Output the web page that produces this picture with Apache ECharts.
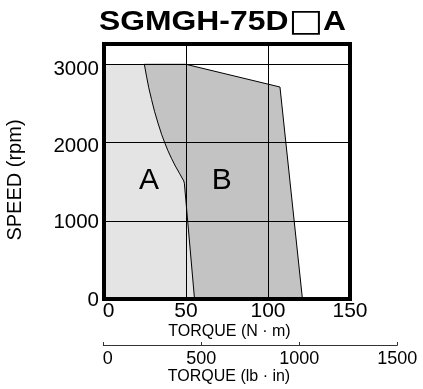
<!DOCTYPE html>
<html><head><meta charset="utf-8">
<script src="https://cdn.jsdelivr.net/npm/echarts@6/dist/echarts.min.js"></script>
<style>html,body{margin:0;padding:0;background:#fff}#c{width:423px;height:389px}</style>
</head><body><div id="c"></div><script>
// ---- data ----
const titleText = 'SGMGH-75D';
const titleBox = '□';
const titleTail = 'A';
const torqueNmRange = [0, 150];
const torqueLbInRange = [0, 1500];
const speedRange = [0, 3260];
const speedTickStep = 1000;
// boundary between region A and region B (torque N·m, speed rpm)
const boundaryTorque = [24.6, 25.9, 27.3, 29.0, 30.8, 32.9, 35.2, 37.0, 38.9, 41.1, 43.5, 46.2, 48.6, 49.0, 55.2];
const boundarySpeed  = [3000, 2850, 2700, 2550, 2400, 2250, 2100, 2000, 1900, 1800, 1700, 1600, 1510, 1480, 0];
// outer limit of region B (from its top-left corner to the torque axis)
const limitTorque = [50, 107.3, 121];
const limitSpeed  = [3000, 2710, 0];
const regionNames = ['A', 'B'];

// ---- build polygons ----
const boundary = boundaryTorque.map((t, i) => [t, boundarySpeed[i]]);
const limit = limitTorque.map((t, i) => [t, limitSpeed[i]]);
const polyA = [[0, 0], [0, boundarySpeed[0]]].concat(boundary);
const polyB = boundary.concat([[limitTorque[2], 0]]).concat(limit.slice(0, 2).reverse());
const polys = [polyA, polyB];
const fills = ['#e4e4e4', '#c3c3c3'];
const strokes = [null, '#000'];

const FONT = '"Liberation Sans", Arial, sans-serif';
const chart = echarts.init(document.getElementById('c'), null, {renderer: 'canvas'});
const border = {show: true, onZero: false, lineStyle: {color: '#000', width: 4, cap: 'square'}};
const yLab = (pt) => ({fontSize: 20.5, fontFamily: FONT, color: '#000', padding: [pt, 0, 0, 0]});
chart.setOption({
  animation: false,
  backgroundColor: '#fff',
  grid: [
    {left: 104, top: 44, width: 246, height: 255},
    {left: 103.3, top: 344, width: 294, height: 1}
  ],
  xAxis: [
    {gridIndex: 0, type: 'value', position: 'bottom', min: torqueNmRange[0], max: torqueNmRange[1], interval: 50, z: 10,
     axisLine: border,
     axisTick: {show: false},
     splitLine: {show: true, lineStyle: {color: '#000', width: 1}},
     axisLabel: {color: '#000', fontSize: 21, fontFamily: FONT, margin: 2,
       formatter: v => v === 0 ? '{z|0}' : String(v),
       rich: {z: {fontSize: 21, fontFamily: FONT, color: '#000', padding: [0, 0, 0, 9]}}}},
    {gridIndex: 0, type: 'value', position: 'top', min: torqueNmRange[0], max: torqueNmRange[1], z: 10,
     axisLine: border,
     axisTick: {show: false}, axisLabel: {show: false}, splitLine: {show: false}},
    {gridIndex: 1, type: 'value', position: 'bottom', min: torqueLbInRange[0], max: torqueLbInRange[1], interval: 500, z: 10,
     axisLine: {show: true, onZero: false, lineStyle: {color: '#333', width: 1}},
     axisTick: {show: true, inside: true, length: 3, lineStyle: {color: '#333', width: 1}},
     splitLine: {show: false},
     axisLabel: {color: '#000', fontSize: 18, fontFamily: FONT, margin: 5,
       formatter: v => v === 0 ? '{z|0}' : String(v),
       rich: {z: {fontSize: 18, fontFamily: FONT, color: '#000', padding: [0, 0, 0, 9]}}}}
  ],
  yAxis: [
    {gridIndex: 0, type: 'value', position: 'left', min: speedRange[0], max: speedRange[1], interval: speedTickStep, z: 10,
     axisLine: border,
     axisTick: {show: false},
     splitLine: {show: true, lineStyle: {color: '#000', width: 1}},
     axisLabel: {color: '#000', fontSize: 20.5, fontFamily: FONT, margin: 5, showMaxLabel: false,
       formatter: v => {
         if (v % speedTickStep !== 0) return '';
         if (v === 3000) return '{t3|' + v + '}';
         if (v === 2000) return '{t2|' + v + '}';
         return '{t1|' + v + '}';
       },
       rich: {t3: yLab(10), t2: yLab(8), t1: yLab(3)}}},
    {gridIndex: 0, type: 'value', position: 'right', min: speedRange[0], max: speedRange[1], z: 10,
     axisLine: border,
     axisTick: {show: false}, axisLabel: {show: false}, splitLine: {show: false}},
    {gridIndex: 1, type: 'value', min: 0, max: 1, show: false}
  ],
  series: [{
    type: 'custom', xAxisIndex: 0, yAxisIndex: 0, z: 2, silent: true,
    data: polys.map((p, i) => ({value: [0, 0], name: regionNames[i]})),
    renderItem: function (params, api) {
      const i = params.dataIndex;
      const pts = polys[i].map(p => api.coord(p));
      return {type: 'polygon', shape: {points: pts},
        style: {fill: fills[i], stroke: strokes[i] || 'none', lineWidth: strokes[i] ? 1 : 0}};
    }
  }],
  graphic: [
    {type: 'text', x: 222.5, y: 23, scaleX: 1.18, z: 20,
     style: {text: '{a|' + titleText + '}{b|' + titleBox + '}{a|' + titleTail + '}',
       align: 'center', verticalAlign: 'middle', textAlign: 'center', textVerticalAlign: 'middle',
       rich: {a: {fontSize: 27, fontWeight: 'bold', fontFamily: FONT, fill: '#000', color: '#000'},
              b: {fontSize: 31, fontWeight: 'bold', fontFamily: '"DejaVu Sans"', fill: '#000', color: '#000'}}}},
    {type: 'text', x: 15.7, y: 180, rotation: Math.PI / 2, z: 20,
     style: {text: 'SPEED (rpm)', font: '20px ' + FONT, fill: '#000', align: 'center', verticalAlign: 'middle', textAlign: 'center', textVerticalAlign: 'middle'}},
    {type: 'text', x: 229.5, y: 331.5, z: 20,
     style: {text: 'TORQUE (N · m)', font: '16px ' + FONT, fill: '#000', align: 'center', verticalAlign: 'middle', textAlign: 'center', textVerticalAlign: 'middle'}},
    {type: 'text', x: 229, y: 377, z: 20,
     style: {text: 'TORQUE (lb · in)', font: '16px ' + FONT, fill: '#000', align: 'center', verticalAlign: 'middle', textAlign: 'center', textVerticalAlign: 'middle'}},
    {type: 'text', x: 149, y: 181, z: 20,
     style: {text: regionNames[0], font: '30px ' + FONT, fill: '#000', align: 'center', verticalAlign: 'middle', textAlign: 'center', textVerticalAlign: 'middle'}},
    {type: 'text', x: 221.7, y: 181, z: 20,
     style: {text: regionNames[1], font: '30px ' + FONT, fill: '#000', align: 'center', verticalAlign: 'middle', textAlign: 'center', textVerticalAlign: 'middle'}}
  ]
});
</script></body></html>
